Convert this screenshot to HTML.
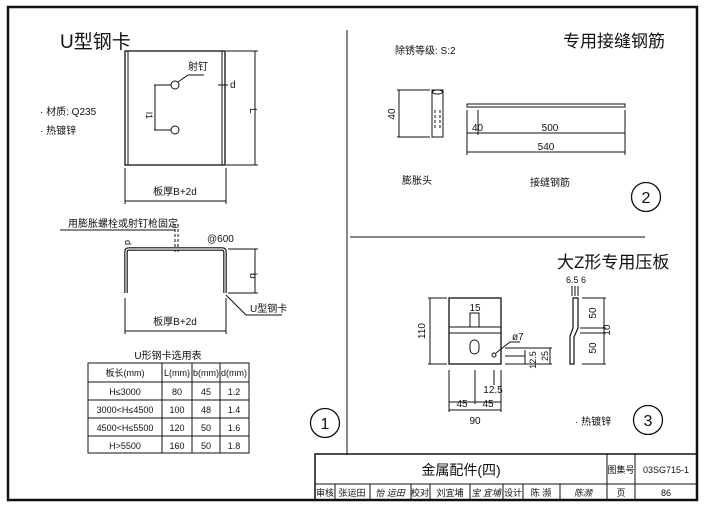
<!DOCTYPE html>
<html><head><meta charset="utf-8"><style>
html,body{margin:0;padding:0;background:#fff}
svg{display:block}
text{font-family:"Liberation Sans","Noto Sans CJK SC",sans-serif;fill:#111}
</style></head><body>
<svg width="705" height="506" viewBox="0 0 705 506" xmlns="http://www.w3.org/2000/svg">
<g fill="none" stroke="#111" stroke-width="1">
<!-- frame -->
<rect x="8" y="7" width="689" height="493" stroke-width="2.5"/>
<line x1="347" y1="30" x2="347" y2="455"/>
<line x1="350" y1="237" x2="645" y2="237"/>
<!-- title block -->
<rect x="315" y="454" width="382" height="46" stroke-width="1.5"/>
<line x1="315" y1="484" x2="697" y2="484"/>
<line x1="607" y1="454" x2="607" y2="500"/>
<line x1="635" y1="454" x2="635" y2="500"/>
<line x1="335" y1="484" x2="335" y2="500"/>
<line x1="370" y1="484" x2="370" y2="500"/>
<line x1="411" y1="484" x2="411" y2="500"/>
<line x1="430" y1="484" x2="430" y2="500"/>
<line x1="470" y1="484" x2="470" y2="500"/>
<line x1="503" y1="484" x2="503" y2="500"/>
<line x1="523" y1="484" x2="523" y2="500"/>
<line x1="560" y1="484" x2="560" y2="500"/>
<!-- plate 1 -->
<rect x="125" y="51" width="100" height="114" stroke-width="1.3"/>
<line x1="128" y1="51" x2="128" y2="165"/>
<line x1="222" y1="51" x2="222" y2="165"/>
<circle cx="175" cy="85" r="4"/>
<circle cx="175" cy="130" r="4"/>
<polyline points="154,85 171,85"/><polyline points="154,130 171,130"/>
<line x1="155" y1="85" x2="155" y2="130"/>
<polyline points="178,82 188,75 204,75"/>
<line x1="226" y1="51" x2="258" y2="51"/><line x1="226" y1="165" x2="258" y2="165"/>
<line x1="255" y1="51" x2="255" y2="165"/>
<line x1="125" y1="168" x2="125" y2="204"/><line x1="226" y1="168" x2="226" y2="204"/>
<line x1="125" y1="201" x2="226" y2="201"/>
<line x1="218" y1="85" x2="228" y2="85"/>
<!-- U section -->
<line x1="60" y1="230" x2="175" y2="230"/>
<line x1="175" y1="224" x2="175" y2="252" stroke-dasharray="3,2"/>
<line x1="178" y1="224" x2="178" y2="252" stroke-dasharray="3,2"/>
<path d="M126,293 V252 Q126,249 129,249 H222 Q225,249 225,252 V293" stroke-width="3.5"/>
<path d="M126,293 V252 Q126,249 129,249 H222 Q225,249 225,252 V293" stroke="#fff" stroke-width="1.2"/>
<line x1="228" y1="249" x2="258" y2="249"/><line x1="228" y1="293" x2="258" y2="293"/>
<line x1="255" y1="249" x2="255" y2="293"/>
<polyline points="226,295 246,315 282,315"/>
<line x1="125" y1="298" x2="125" y2="334"/><line x1="226" y1="298" x2="226" y2="334"/>
<line x1="125" y1="331" x2="226" y2="331"/>
<!-- table -->
<rect x="88" y="363" width="161" height="90"/>
<line x1="88" y1="382" x2="249" y2="382"/>
<line x1="88" y1="400" x2="249" y2="400"/>
<line x1="88" y1="418" x2="249" y2="418"/>
<line x1="88" y1="436" x2="249" y2="436"/>
<line x1="162" y1="363" x2="162" y2="453"/>
<line x1="192" y1="363" x2="192" y2="453"/>
<line x1="220" y1="363" x2="220" y2="453"/>
<circle cx="325" cy="423" r="14.5" stroke-width="1.3"/>
<!-- part 2 -->
<rect x="432" y="90" width="11" height="47"/>
<ellipse cx="437.5" cy="92" rx="5" ry="2"/>
<line x1="435" y1="110" x2="435" y2="130" stroke-dasharray="3,2"/>
<line x1="440" y1="110" x2="440" y2="130" stroke-dasharray="3,2"/>
<line x1="397" y1="90" x2="430" y2="90"/><line x1="397" y1="137" x2="430" y2="137"/>
<line x1="399" y1="90" x2="399" y2="137"/>
<rect x="467" y="104" width="158" height="3"/>
<line x1="467" y1="110" x2="467" y2="155"/><line x1="478" y1="110" x2="478" y2="135"/>
<line x1="625" y1="110" x2="625" y2="155"/>
<line x1="467" y1="133" x2="625" y2="133"/>
<line x1="467" y1="152" x2="625" y2="152"/>
<circle cx="646" cy="197" r="14.5" stroke-width="1.3"/>
<!-- part 3 -->
<rect x="449" y="298" width="52" height="66" stroke-width="1.3"/>
<rect x="470" y="313" width="9" height="14"/>
<line x1="449" y1="327" x2="501" y2="327"/><line x1="449" y1="333" x2="501" y2="333"/>
<rect x="470" y="340" width="9" height="14" rx="4.5"/>
<circle cx="494" cy="355" r="2"/>
<polyline points="496,353 510,342 520,342"/>
<line x1="428" y1="298" x2="447" y2="298"/><line x1="428" y1="364" x2="447" y2="364"/>
<line x1="430" y1="298" x2="430" y2="364"/>
<line x1="505" y1="348" x2="552" y2="348"/><line x1="505" y1="356" x2="525" y2="356"/><line x1="505" y1="364" x2="552" y2="364"/>
<line x1="525" y1="350" x2="525" y2="364"/><line x1="550" y1="348" x2="550" y2="364"/>
<line x1="449" y1="370" x2="449" y2="412"/><line x1="475" y1="370" x2="475" y2="404"/>
<line x1="501" y1="370" x2="501" y2="412"/><line x1="494" y1="370" x2="494" y2="385"/>
<line x1="449" y1="402" x2="501" y2="402"/>
<line x1="449" y1="410" x2="501" y2="410"/>
<path d="M573,298 H578 V328 L574,337 V364 H570 V336 L573,328 Z" stroke-width="1.2"/>
<line x1="572" y1="286" x2="572" y2="296"/><line x1="575" y1="286" x2="575" y2="296"/><line x1="578" y1="286" x2="578" y2="296"/>
<line x1="582" y1="298" x2="606" y2="298"/><line x1="580" y1="328" x2="606" y2="328"/><line x1="580" y1="333" x2="606" y2="333"/><line x1="582" y1="364" x2="606" y2="364"/>
<line x1="604" y1="298" x2="604" y2="364"/>
<circle cx="648" cy="420" r="14.5" stroke-width="1.3"/>
</g>
<!-- text -->
<text x="60" y="48" font-size="19">U型钢卡</text>
<text x="188" y="70" font-size="10">射钉</text>
<text x="230" y="88" font-size="10">d</text>
<text x="250" y="108" font-size="10" transform="rotate(90 250 108)">L</text>
<text x="146" y="112" font-size="9" transform="rotate(90 146 112)">l1</text>
<text x="40" y="115" font-size="10">· 材质: Q235</text>
<text x="40" y="134" font-size="10">· 热镀锌</text>
<text x="175" y="195" font-size="10" text-anchor="middle">板厚B+2d</text>
<text x="68" y="227" font-size="10">用膨胀螺栓或射钉枪固定</text>
<text x="125" y="240" font-size="9" transform="rotate(90 125 240)">d</text>
<text x="207" y="242" font-size="10">@600</text>
<text x="250" y="273" font-size="10" transform="rotate(90 250 273)">b</text>
<text x="250" y="312" font-size="10">U型钢卡</text>
<text x="175" y="325" font-size="10" text-anchor="middle">板厚B+2d</text>
<text x="168" y="359" font-size="10" text-anchor="middle">U形钢卡选用表</text>
<g font-size="9" text-anchor="middle">
<text x="125" y="376">板长(mm)</text><text x="177" y="376">L(mm)</text><text x="206" y="376">b(mm)</text><text x="234" y="376">d(mm)</text>
<text x="125" y="395">H≤3000</text><text x="177" y="395">80</text><text x="206" y="395">45</text><text x="234" y="395">1.2</text>
<text x="125" y="413">3000&lt;H≤4500</text><text x="177" y="413">100</text><text x="206" y="413">48</text><text x="234" y="413">1.4</text>
<text x="125" y="431">4500&lt;H≤5500</text><text x="177" y="431">120</text><text x="206" y="431">50</text><text x="234" y="431">1.6</text>
<text x="125" y="449">H&gt;5500</text><text x="177" y="449">160</text><text x="206" y="449">50</text><text x="234" y="449">1.8</text>
</g>
<text x="325" y="429" font-size="16" text-anchor="middle">1</text>
<text x="395" y="54" font-size="10">除锈等级: S:2</text>
<text x="563" y="47" font-size="17">专用接缝钢筋</text>
<text x="395" y="114" font-size="10" transform="rotate(-90 395 114)" text-anchor="middle">40</text>
<text x="472" y="131" font-size="10">40</text>
<text x="550" y="131" font-size="10" text-anchor="middle">500</text>
<text x="546" y="150" font-size="10" text-anchor="middle">540</text>
<text x="417" y="184" font-size="10" text-anchor="middle">膨胀头</text>
<text x="550" y="186" font-size="10" text-anchor="middle">接缝钢筋</text>
<text x="646" y="203" font-size="16" text-anchor="middle">2</text>
<text x="557" y="268" font-size="17">大Z形专用压板</text>
<text x="566" y="283" font-size="9">6.5</text><text x="581" y="283" font-size="9">6</text>
<text x="425" y="331" font-size="10" transform="rotate(-90 425 331)" text-anchor="middle">110</text>
<text x="475" y="311" font-size="10" text-anchor="middle">15</text>
<text x="512" y="340" font-size="10">ø7</text>
<text x="536" y="360" font-size="9" transform="rotate(-90 536 360)" text-anchor="middle">12.5</text>
<text x="548" y="356" font-size="9" transform="rotate(-90 548 356)" text-anchor="middle">25</text>
<text x="596" y="313" font-size="10" transform="rotate(-90 596 313)" text-anchor="middle">50</text>
<text x="610" y="330" font-size="10" transform="rotate(-90 610 330)" text-anchor="middle">10</text>
<text x="596" y="348" font-size="10" transform="rotate(-90 596 348)" text-anchor="middle">50</text>
<text x="493" y="393" font-size="10" text-anchor="middle">12.5</text>
<text x="462" y="407" font-size="10" text-anchor="middle">45</text>
<text x="488" y="407" font-size="10" text-anchor="middle">45</text>
<text x="475" y="424" font-size="10" text-anchor="middle">90</text>
<text x="575" y="425" font-size="10">· 热镀锌</text>
<text x="648" y="426" font-size="16" text-anchor="middle">3</text>
<text x="461" y="475" font-size="14" text-anchor="middle">金属配件(四)</text>
<text x="621" y="473" font-size="9" text-anchor="middle">图集号</text>
<text x="666" y="473" font-size="9" text-anchor="middle">03SG715-1</text>
<g font-size="9" text-anchor="middle">
<text x="325" y="496">审核</text><text x="352" y="496">张运田</text><text x="390" y="496" font-style="italic">怡 运田</text>
<text x="420" y="496">校对</text><text x="450" y="496">刘宜埔</text><text x="486" y="496" font-style="italic">宝 宜埔</text>
<text x="513" y="496">设计</text><text x="541" y="496">陈 濒</text><text x="583" y="496" font-style="italic">陈濒</text>
<text x="621" y="496">页</text><text x="666" y="496">86</text>
</g>
</svg>
</body></html>
